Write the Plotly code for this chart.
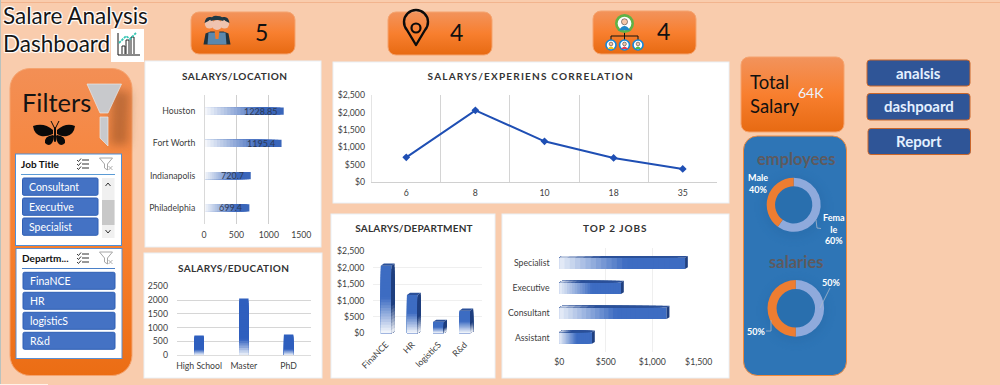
import base64
import plotly.graph_objects as go

# ---------- data ----------
location_names = ["Philadelphia", "Indianapolis", "Fort Worth", "Houston"]
location_values = [699.4, 720.7, 1195.4, 1228.85]
education_names = ["High School", "Master", "PhD"]
education_values = [710, 2060, 750]
experience_years = ["6", "8", "10", "18", "35"]
experience_values = [715, 2061, 1174, 697, 382]
department_names = ["FinaNCE", "HR", "logisticS", "R&d"]
department_values = [2060, 1170, 350, 690]
job_names = ["Assistant", "Consultant", "Executive", "Specialist"]
job_values = [352, 1155, 664, 1353]
gender_names = ["Female", "Male"]
gender_shares = [60, 40]
salary_names = ["Female", "Male"]
salary_shares = [50, 50]
job_slicer = ["Consultant", "Executive", "Specialist"]
department_slicer = ["FinaNCE", "HR", "logisticS", "R&d"]
nav_buttons = ["analsis", "dashpoard", "Report"]
dollar_ticks_2500 = [0, 500, 1000, 1500, 2000, 2500]
dollar_labels_2500 = ["$0", "$500", "$1,000", "$1,500", "$2,000", "$2,500"]
dollar_ticks_1500 = [0, 500, 1000, 1500]
dollar_labels_1500 = ["$0", "$500", "$1,000", "$1,500"]

W, H = 1000, 385
FONT = "Lato"
BG = "#F9CCAD"
INK = "#404040"
BAR = "#3A68BF"


def X(p):
    return p / W


def Y(p):
    return 1 - p / H


def mix(c, t):
    """blend white (t=0) to colour c (t=1)"""
    v = [int(c[i:i + 2], 16) for i in (1, 3, 5)]
    return "rgb(%d,%d,%d)" % tuple(round(255 + (x - 255) * t) for x in v)


# ---------- decoration drawn as one SVG backdrop ----------
def rr(x0, y0, x1, y1, r, fill, stroke="none", sw=0, extra=""):
    return (f'<rect x="{x0}" y="{y0}" width="{x1-x0}" height="{y1-y0}" rx="{r}" ry="{r}" '
            f'fill="{fill}" stroke="{stroke}" stroke-width="{sw}" {extra}/>')


def person(cx, cy, r, ring, inner):
    return (f'<circle cx="{cx}" cy="{cy}" r="{r}" fill="{ring}"/>'
            f'<circle cx="{cx}" cy="{cy}" r="{r*0.72}" fill="#fff"/>'
            f'<path d="M{cx-r*.6} {cy+r*.7} Q{cx} {cy-r*.2} {cx+r*.6} {cy+r*.7} Z" fill="{inner}"/>'
            f'<circle cx="{cx}" cy="{cy-r*.18}" r="{r*.32}" fill="#F5C7A9" stroke="#222" stroke-width=".5"/>')


def slicer_icons(x1, x2, y):
    s = ""
    for i in range(3):
        yy = y - 4 + i * 4
        s += f'<path d="M{x1-6} {yy} l1.5 1.5 l2.5 -3" fill="none" stroke="#222" stroke-width=".9"/>'
        s += f'<path d="M{x1-1} {yy} h7" stroke="#333" stroke-width="1"/>'
    s += (f'<path d="M{x2-7} {y-6} h13 l-5 6 v6 l-3 -2 v-4 Z" fill="none" stroke="#A6A6A6" stroke-width="1"/>'
          f'<path d="M{x2+2} {y+2} l4 4 m0 -4 l-4 4" stroke="#A6A6A6" stroke-width=".9"/>')
    return s


defs = """
<defs>
<linearGradient id="og" x1="0" y1="0" x2="0" y2="1">
<stop offset="0" stop-color="#F2935C"/><stop offset=".5" stop-color="#F87F2F"/><stop offset="1" stop-color="#E76A12"/>
</linearGradient>
<linearGradient id="fp" x1="0" y1="0" x2="0" y2="1">
<stop offset="0" stop-color="#F38F55"/><stop offset=".55" stop-color="#F8802F"/><stop offset="1" stop-color="#EB6D14"/>
</linearGradient>
<filter id="blur" x="-50%" y="-50%" width="200%" height="200%"><feGaussianBlur stdDeviation="5"/></filter>
</defs>"""

svg = [f'<svg xmlns="http://www.w3.org/2000/svg" width="{W}" height="{H}" viewBox="0 0 {W} {H}">', defs]
svg.append(f'<rect width="{W}" height="{H}" fill="{BG}"/>')
svg.append(f'<path d="M0 2.5 H{W}" stroke="#F2B48E" stroke-width="1"/>')
svg.append(f'<path d="M.5 0 V{H}" stroke="#B9C2BE" stroke-width="1"/>')
svg.append(f'<path d="M0 384.5 H48" stroke="#FFF3EA" stroke-width="1"/>')

# KPI tiles
for x0, y0, x1, y1 in [(191, 12, 295, 54), (388, 12, 492, 55), (593, 11, 696, 54), (741, 57, 844, 132)]:
    svg.append(rr(x0, y0, x1, y1, 8, "url(#og)", "#F5A36E", 1))

# people icon
svg.append('<g>'
           '<path d="M203.5 44.5 l2 -11 l5 -2 h13 l5 2 l2 11 Z" fill="#22333D"/>'
           '<path d="M207.5 44.5 l1 -12 l17 0 l1 12 Z" fill="#5C88AD"/>'
           '<circle cx="209.5" cy="24" r="4.6" fill="#EFC3AE"/><circle cx="224.5" cy="24" r="4.6" fill="#EFC3AE"/>'
           '<path d="M204.5 23 q1 -7 6 -6 q3 0 4 3 q-5 -1 -6 1 Z M229.5 23 q-1 -7 -6 -6 q-3 0 -4 3 q5 -1 6 1 Z" fill="#1F3540"/>'
           '<circle cx="217" cy="25" r="5" fill="#F0C4B0"/>'
           '<path d="M210.5 21 q1 -6 7 -5 q6 0 6 5 q-6 -2 -13 0 Z" fill="#1E3A46"/>'
           '<path d="M214.5 30 h5 l-1 9 h-3 Z" fill="#EE7A2B"/></g>')
# pin icon
svg.append('<path d="M416 45 L407 30 A12 12 0 1 1 425 30 Z" fill="none" stroke="#0B0B0B" stroke-width="2.4" stroke-linejoin="round"/>'
           '<circle cx="416" cy="28" r="4.5" fill="none" stroke="#0B0B0B" stroke-width="2.2"/>')
# org icon
svg.append('<path d="M624.5 30 V36 M611 41 V36 H638 V41 M624.5 36 V41" fill="none" stroke="#111" stroke-width="1"/>')
svg.append(person(624.5, 23.5, 9.5, "#5FB246", "#1E88C8"))
svg.append(person(611, 45, 5.8, "#1487D8", "#F5C518"))
svg.append(person(624.5, 45, 5.8, "#1487D8", "#E8384F"))
svg.append(person(638, 45, 5.8, "#1487D8", "#4DB848"))

# chart icon
svg.append('<rect x="111" y="29" width="33" height="33" fill="#fff"/>')
svg.append('<path d="M118 33 V55 H140" fill="none" stroke="#111" stroke-width="1"/>'
           '<path d="M122 54 v-8 h3 v8 M126 54 v-14 h3 v14 M131 54 v-17 h3 v17" fill="#fff" stroke="#222" stroke-width="1"/>'
           '<path d="M119 43 L126 36 L130 39 L136 33" fill="none" stroke="#35C6B5" stroke-width="1.8" stroke-dasharray="2.5 1"/>')

# chart panels
for x0, y0, x1, y1 in [(145, 61, 321, 247), (144, 253, 322, 378), (333, 62, 729, 203),
                       (331, 214, 495, 378), (502, 214, 729, 378)]:
    svg.append(rr(x0, y0, x1, y1, 0, "#FFFFFF", "#EAF0F6", 1))

# filter panel
svg.append(rr(10, 68.5, 132, 375.5, 20, "url(#fp)", "#F5A36E", 1))
svg.append('<path d="M112 90 L130 92 L128 145 L110 145 Z" fill="#8A4B22" opacity=".5" filter="url(#blur)"/>')
svg.append('<path d="M87 84 H121.5 L108 113 H100 Z" fill="#C8C9CC" stroke="#E8E8E8" stroke-width=".7"/>'
           '<path d="M100 117 H108 V146 L100 138 Z" fill="#C8C9CC" stroke="#E8E8E8" stroke-width=".7"/>')
# butterfly
svg.append('<g fill="#0A0A0A">'
           '<path d="M53 130 Q44 122 33 126 Q34 134 41 136 Q46 137 53 134 Z"/>'
           '<path d="M57 130 Q66 122 75 126 Q74 134 67 136 Q62 137 57 134 Z"/>'
           '<path d="M53 135 Q44 136 45 143 Q49 147 52 143 Q54 140 54 136 Z"/>'
           '<path d="M57 135 Q66 136 65 143 Q61 147 58 143 Q56 140 56 136 Z"/>'
           '<rect x="54" y="127" width="2" height="15" rx="1"/>'
           '<path d="M54.5 128 L51 121 M55.5 128 L59 121" stroke="#0A0A0A" stroke-width="1" fill="none"/></g>')

# slicers
svg.append(rr(15.5, 154, 121.5, 245.5, 0, "#FFFFFF", "#4E8FD8", 1))
svg.append('<path d="M21 174.5 H115" stroke="#5B9BD5" stroke-width="1"/>')
svg.append(slicer_icons(83, 106.5, 164))
for i, _ in enumerate(job_slicer):
    y0 = 178 + 20 * i
    svg.append(rr(22.5, y0, 98, y0 + 17.3, 1.5, "#4472C4", "#2F5FB5", 1))
svg.append('<rect x="102" y="178" width="12.5" height="60" fill="#F0F0F0"/>'
           '<rect x="102" y="200" width="12.5" height="25" fill="#C8C8C8"/>'
           '<path d="M105.5 186 l2.5 -3 l2.5 3 M105.5 230 l2.5 3 l2.5 -3" fill="none" stroke="#333" stroke-width="1"/>')
svg.append(rr(16, 248.5, 122, 358.5, 0, "#FFFFFF", "#5B8FD0", 1))
svg.append('<path d="M22 268.5 H115" stroke="#4A80C8" stroke-width="1"/>')
svg.append(slicer_icons(83, 106.5, 258))
for i, _ in enumerate(department_slicer):
    y0 = 272.3 + 20 * i
    svg.append(rr(23, y0, 115, y0 + 17, 1.5, "#4472C4", "#2F5FB5", 1))

# blue panel
svg.append(rr(743.5, 136, 846.5, 375.5, 14, "#2E75B6", "#F08A3C", 1))
for cx, cy in [(794, 207), (796, 311)]:
    svg.append(f'<circle cx="{cx}" cy="{cy}" r="31" fill="#1F5C94" opacity=".22" filter="url(#blur)"/>')

# nav buttons
for x0, y0, x1, y1 in [(867, 60, 970, 86), (867, 93.5, 970, 120), (868, 128.5, 970.5, 154.5)]:
    svg.append(rr(x0, y0, x1, y1, 3, "#2F5597", "#C9662B", 1))
svg.append('</svg>')
uri = "data:image/svg+xml;base64," + base64.b64encode("".join(svg).encode()).decode()

fig = go.Figure()
layout = dict(
    width=W, height=H, autosize=False, margin=dict(l=0, r=0, t=0, b=0, pad=0, autoexpand=False),
    paper_bgcolor=BG, plot_bgcolor="rgba(0,0,0,0)", showlegend=False, barmode="overlay",
    font=dict(family=FONT, size=9, color=INK), hovermode=False,
    images=[dict(source=uri, xref="paper", yref="paper", x=0, y=1, sizex=1, sizey=1,
                 xanchor="left", yanchor="top", sizing="stretch", layer="below")],
)
annotations = []
shapes = []


def text(x, y, s, size, color="#222222", anchor="center", bold=False, shadow=None, family=FONT):
    f = dict(family=family, size=size, color=color, weight="bold" if bold else "normal")
    if shadow:
        f["shadow"] = shadow
    if anchor == "left":
        x -= 2
    annotations.append(dict(xref="paper", yref="paper", x=X(x), y=Y(y), text=s, showarrow=False,
                            xanchor=anchor, yanchor="middle", font=f, align="center"))


def axes(n, xdom, ydom, xa, ya):
    sx = "" if n == 1 else str(n)
    base = dict(showline=False, zeroline=False, showgrid=False, ticks="outside", automargin=False,
                tickcolor="rgba(0,0,0,0)", tickfont=dict(family=FONT, size=8.7, color=INK))
    layout[f"xaxis{sx}"] = {**base, "domain": [X(xdom[0]), X(xdom[1])], "anchor": f"y{sx}", **xa}
    layout[f"yaxis{sx}"] = {**base, "domain": [Y(ydom[1]), Y(ydom[0])], "anchor": f"x{sx}", **ya}


def gradient_bars(n, values, orient, width, ramp, color=BAR, segs=24):
    sx = "" if n == 1 else str(n)
    pos, size, cols, wid = [], [], [], []
    for i, v in enumerate(values):
        for k in range(segs, 0, -1):
            f = k / segs
            pos.append(i)
            size.append(v * f)
            cols.append(mix(color, min(1, ramp[0] + (1 - ramp[0]) * (f / ramp[1]))))
            wid.append(width)
    kw = dict(x=size, y=pos) if orient == "h" else dict(x=pos, y=size)
    fig.add_trace(go.Bar(orientation=orient, width=wid, marker=dict(color=cols, line=dict(width=0)),
                         xaxis=f"x{sx}", yaxis=f"y{sx}", **kw))


# ---- chart 1: location ----
axes(1, (204, 301.3), (95, 224),
     dict(range=[0, 1500], tickvals=[0, 500, 1000, 1500], showgrid=True, gridcolor="#CFCFCF", gridwidth=1, ticklen=3),
     dict(range=[-0.5, 3.5], tickvals=list(range(4)), ticktext=location_names, ticklen=6))
shapes.append(dict(type="line", xref="x", yref="paper", x0=0, x1=0, y0=Y(224), y1=Y(95),
                   line=dict(color="#D9D9D9", width=2)))
gradient_bars(1, location_values, "h", 0.23, (0.0, 0.75), "#3A66BA")
for v, i in zip(location_values, range(4)):
    annotations.append(dict(xref="x", yref="y", x=v, y=i, text=str(v), showarrow=False, xanchor="right",
                            xshift=-5, font=dict(family=FONT, size=9, color="#2E3A55")))

# ---- chart 2: education ----
axes(2, (176.7, 311), (286.3, 355),
     dict(range=[-0.5, 2.5], tickvals=list(range(3)), ticktext=education_names, ticklen=3,
          showline=True, linecolor="#DDDDDD"),
     dict(range=[0, 2500], tickvals=dollar_ticks_2500, showgrid=True, gridcolor="#D6D6D6", ticklen=6,
          tickformat="d"))
gradient_bars(2, education_values, "v", 0.21, (0.0, 0.3), "#2F5FBE")

# ---- chart 3: experience ----
axes(3, (371.7, 717.3), (95, 182.3),
     dict(range=[-0.5, 4.5], tickvals=list(range(5)), ticktext=experience_years, ticklen=2, showline=True,
          linecolor="#D0D0D0", minor=dict(tickvals=[0.5, 1.5, 2.5, 3.5], showgrid=True, gridcolor="#D4D4D4", ticks="")),
     dict(range=[0, 2500], tickvals=dollar_ticks_2500, ticktext=dollar_labels_2500, ticklen=4,
          showline=True, linecolor="#E4E4E4"))
fig.add_trace(go.Scatter(x=list(range(5)), y=experience_values, mode="lines+markers", xaxis="x3", yaxis="y3",
                         line=dict(color="#1F4FB4", width=2),
                         marker=dict(symbol="diamond", size=6, color="#1F4FB4")))

# ---- chart 4: department (3-D look) ----
axes(4, (373, 481.7), (251.3, 333.3),
     dict(range=[-0.5, 3.65], tickvals=list(range(4)), ticktext=department_names, tickangle=-45, ticklen=2),
     dict(range=[0, 2500], tickvals=dollar_ticks_2500, ticktext=dollar_labels_2500,
          showgrid=True, gridcolor="#EFEFEF", ticklen=6))
gradient_bars(4, department_values, "v", 0.41, (0.0, 0.55), "#3D6CC2")
dw, dx, dy = 0.205, 0.12, 65
for i, v in enumerate(department_values):
    segs = 20
    for k in range(segs, 0, -1):
        b = v * k / segs
        shapes.append(dict(type="path", xref="x4", yref="y4", line=dict(width=0), layer="above",
                           fillcolor=mix("#1F3F7F", min(1, (k / segs) / 0.45)),
                           path=f"M{i+dw} 0 L{i+dw+dx} {dy} L{i+dw+dx} {b+dy} L{i+dw} {b} Z"))
    shapes.append(dict(type="path", xref="x4", yref="y4", line=dict(width=0), fillcolor="#2B5099",
                       path=f"M{i-dw} {v} L{i+dw} {v} L{i+dw+dx} {v+dy} L{i-dw+dx} {v+dy} Z"))

# ---- chart 5: jobs (3-D look) ----
axes(5, (559.3, 698.7), (248, 352),
     dict(range=[0, 1500], tickvals=dollar_ticks_1500, ticktext=dollar_labels_1500,
          showgrid=True, gridcolor="#EFEFEF", ticklen=2),
     dict(range=[-0.56, 3.617], tickvals=list(range(4)), ticktext=job_names, ticklen=7))
gradient_bars(5, job_values, "h", 0.46, (0.08, 0.55), "#3D6CC2")
jw, jdx, jdy = 0.23, 30, 0.07
for i, v in enumerate(job_values):
    segs = 16
    for k in range(segs, 0, -1):
        b = v * k / segs
        shapes.append(dict(type="path", xref="x5", yref="y5", line=dict(width=0),
                           fillcolor=mix("#2B5099", min(1, 0.12 + (k / segs) / 0.4)),
                           path=f"M0 {i+jw} L{b} {i+jw} L{b+jdx} {i+jw+jdy} L{jdx} {i+jw+jdy} Z"))
    shapes.append(dict(type="path", xref="x5", yref="y5", line=dict(width=0), fillcolor="#1F3F7F",
                       path=f"M{v} {i-jw} L{v+jdx} {i-jw+jdy} L{v+jdx} {i+jw+jdy} L{v} {i+jw} Z"))

# ---- donuts ----
fig.add_trace(go.Pie(labels=gender_names, values=gender_shares, hole=0.69, sort=False, direction="clockwise",
                     rotation=0, textinfo="none", marker=dict(colors=["#8FAADC", "#ED7D31"], line=dict(width=0)),
                     domain=dict(x=[X(766.7), X(820.7)], y=[Y(231.8), Y(177.8)])))
fig.add_trace(go.Pie(labels=salary_names, values=salary_shares, hole=0.68, sort=False, direction="clockwise",
                     rotation=0, textinfo="none", marker=dict(colors=["#8FAADC", "#ED7D31"], line=dict(width=0)),
                     domain=dict(x=[X(767.5), X(824.1)], y=[Y(336.7), Y(280)])))
for d in ["M816 220 L817 228 L821 228.5", "M820 308 L830 288", "M771 320 L771 331 L766 331"]:
    pts = d.replace("M", "").split(" L")
    out = []
    for j, p in enumerate(pts):
        a, b = p.split()
        out.append(("M" if j == 0 else "L") + f"{X(float(a))} {Y(float(b))}")
    shapes.append(dict(type="path", xref="paper", yref="paper", path=" ".join(out),
                       line=dict(color="#A9B8C9", width=0.8)))

# ---- text ----
SH = "1px 1px 1px #FFFFFF, -1px -1px 1px #FFFFFF, 1px -1px 1px #FFFFFF, -1px 1px 1px #FFFFFF"
text(3, 15, "Salare Analysis", 22.5, "#161616", "left", shadow=SH)
text(3, 43, "Dashboard", 22.5, "#161616", "left", shadow=SH)
text(261, 32, "5", 23, "#111111")
text(456.7, 32, "4", 23, "#111111")
text(663, 31, "4", 23, "#111111")
text(750, 81.5, "Total", 18.5, "#111111", "left")
text(750, 105.5, "Salary", 18.5, "#111111", "left")
text(811, 92.5, "64K", 14, "#EAF3FF")
text(21.5, 101.5, "Filters", 25.5, "#141414", "left")
text(21, 164, "Job Title", 10, "#111111", "left", bold=True)
text(22, 258, "Departm...", 10, "#111111", "left", bold=True)
for i, s in enumerate(job_slicer):
    text(28.5, 186.8 + 20 * i, s, 10.5, "#FFFFFF", "left")
for i, s in enumerate(department_slicer):
    text(29.5, 280.8 + 20 * i, s, 10.5, "#FFFFFF", "left")
for s, (x, y) in zip(nav_buttons, [(918.5, 72.5), (918.5, 105.5), (919, 141)]):
    text(x, y, s, 15, "#E4F0FF", bold=True)
text(796.5, 158.5, "employees", 16.5, "#5E5A5E", bold=True)
text(796, 262, "salaries", 16.5, "#5E5A5E", bold=True)
text(758, 184, "Male<br>40%", 9, "#FFFFFF", bold=True)
text(834, 229, "Fema<br>le<br>60%", 9, "#FFFFFF", bold=True)
text(831, 282, "50%", 9, "#FFFFFF", bold=True)
text(756, 331, "50%", 9, "#FFFFFF", bold=True)
chart_titles = [(234.5, 75.5, "SALARYS/LOCATION"), (233, 267.5, "SALARYS/EDUCATION"),
                (530, 76, "SALARYS/EXPERIENS CORRELATION"), (414, 227.5, "SALARYS/DEPARTMENT"),
                (615, 227.5, "TOP 2 JOBS")]
for x, y, s in chart_titles:
    text(x, y, s, 10, "#333333", bold=True)

layout["annotations"] = annotations
layout["shapes"] = shapes
fig.update_layout(**layout)

post = """
document.body.style.margin='0';
document.body.style.overflow='hidden';
setTimeout(function(){
  var sp={'SALARYS/LOCATION':0.5,'SALARYS/EDUCATION':0.35,'SALARYS/EXPERIENS CORRELATION':1.2,
          'SALARYS/DEPARTMENT':0.2,'TOP 2 JOBS':1};
  document.querySelectorAll('.annotation-text').forEach(function(t){
    var v=sp[t.textContent]; if(v!==undefined){t.style.letterSpacing=v+'px';}
  });
},50);
"""
fig.write_html("out.html", post_script=post, config=dict(displayModeBar=False, staticPlot=True))
